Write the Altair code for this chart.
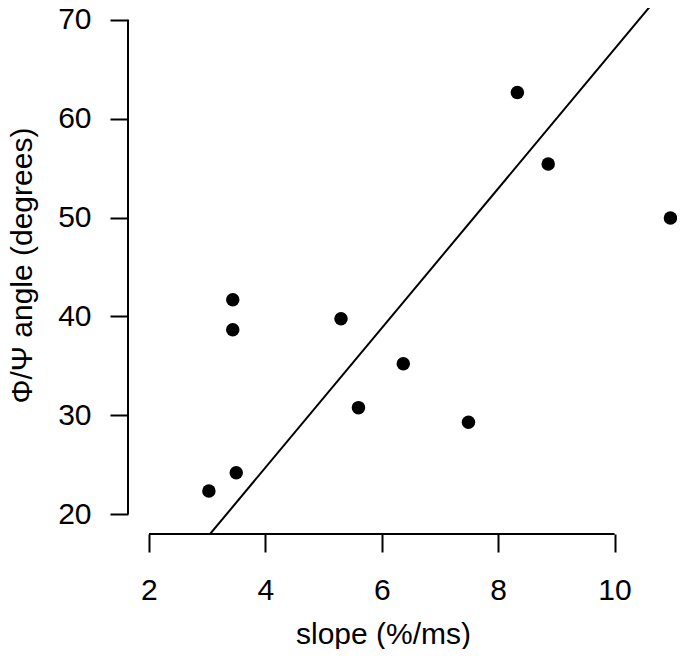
import altair as alt
import pandas as pd

# Data
slope = [3.03, 3.50, 3.44, 3.44, 5.30, 5.60, 6.37, 7.49, 8.33, 8.86, 10.96]
angle = [22.35, 24.20, 41.69, 38.65, 39.77, 30.78, 35.22, 29.31, 62.66, 55.42, 49.97]
fit_slope = [3.05, 10.70]
fit_angle = [18.0, 72.0]
x_ticks = [2, 4, 6, 8, 10]
y_ticks = [20, 30, 40, 50, 60, 70]
x_domain = [1.64, 11.073]
y_domain = [18.0, 71.2]

FONT = "Liberation Sans, Arial, Helvetica, sans-serif"
W, H = 549, 526

pts = pd.DataFrame({"slope": slope, "angle": angle})
fit = pd.DataFrame({"slope": fit_slope, "angle": fit_angle})

xscale = alt.Scale(domain=x_domain, nice=False, zero=False)
yscale = alt.Scale(domain=y_domain, nice=False, zero=False)

x_axis = alt.Axis(
    values=x_ticks, format="d", title="slope (%/ms)", domain=False, grid=False,
    tickSize=18, tickWidth=2, tickColor="black",
    labelFont=FONT, labelFontSize=30, labelColor="black",
    labelBaseline="alphabetic", labelPadding=47, labelAlign="center",
    labelFlush=False, labelOverlap=False,
    titleFont=FONT, titleFontSize=30, titleFontWeight="normal", titleColor="black",
    titleX=255, titleY=109, titleBaseline="alphabetic", titleAlign="center",
)
y_axis = alt.Axis(
    values=y_ticks, format="d", title="Φ/Ψ angle (degrees)", domain=False, grid=False,
    tickSize=18, tickWidth=2, tickColor="black",
    labelFont=FONT, labelFontSize=30, labelColor="black",
    labelBaseline="middle", labelPadding=19, labelAlign="right",
    labelFlush=False, labelOverlap=False,
    titleFont=FONT, titleFontSize=30, titleFontWeight="normal", titleColor="black",
    titleAngle=270, titleX=-97, titleY=257, titleBaseline="alphabetic", titleAlign="center",
)

points = alt.Chart(pts).mark_circle(size=182, color="black", opacity=1).encode(
    x=alt.X("slope:Q", scale=xscale, axis=x_axis),
    y=alt.Y("angle:Q", scale=yscale, axis=y_axis),
)

line = alt.Chart(fit).mark_line(color="black", strokeWidth=2, clip=True).encode(
    x=alt.X("slope:Q", scale=xscale),
    y=alt.Y("angle:Q", scale=yscale),
)

y_line = alt.Chart().mark_rule(color="black", strokeWidth=2).encode(
    x=alt.value(0),
    y=alt.datum(y_ticks[0]),
    y2=alt.datum(y_ticks[-1]),
)
x_line = alt.Chart().mark_rule(color="black", strokeWidth=2).encode(
    y=alt.value(H),
    x=alt.datum(x_ticks[0]),
    x2=alt.datum(x_ticks[-1]),
)

chart = alt.layer(points, line, y_line, x_line).properties(
    width=W, height=H,
    padding={"left": 120, "top": 0, "right": 0, "bottom": 115},
    autosize=alt.AutoSizeParams(type="none"),
).configure_view(stroke=None)

chart.save("out.html", embed_options={"renderer": "svg", "actions": False})
